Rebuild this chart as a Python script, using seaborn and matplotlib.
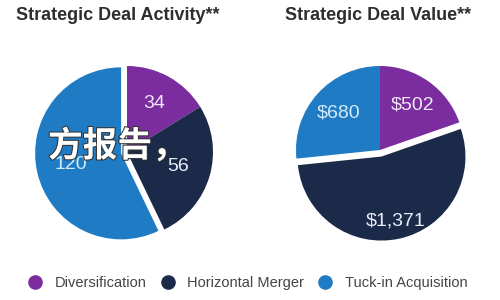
import matplotlib
matplotlib.use("Agg")
import matplotlib.pyplot as plt
import matplotlib.patheffects as pe
from matplotlib.lines import Line2D
import numpy as np
import seaborn as sns

categories = ["Diversification", "Horizontal Merger", "Tuck-in Acquisition"]
deal_activity = [34, 56, 120]
deal_value = [502, 1371, 680]
activity_labels = ["34", "56", "120"]
value_labels = ["$502", "$1,371", "$680"]
titles = ["Strategic Deal Activity**", "Strategic Deal Value**"]
overlay_text = "方报告，"

sns.set_theme(style="white")
plt.rcParams['font.family'] = ['Liberation Sans', 'DejaVu Sans']
colors = ["#7b2d9f", "#1c2a4a", "#1f7bc3"]
label_colors = ["#f0e8f8", "#e8eef8", "#d2ecfb"]

fig = plt.figure(figsize=(5, 3), dpi=100)
fig.patch.set_facecolor("white")

def px_axes(cx, cy, r):
    return fig.add_axes([(cx - r) / 500, (300 - cy - r) / 300, 2 * r / 500, 2 * r / 300])

def draw_pie(ax, values, labels, explode, dists):
    wedges, _ = ax.pie(values, colors=colors, startangle=90, counterclock=False,
                       explode=explode, radius=1.0,
                       wedgeprops=dict(linewidth=0))
    for i, (w, lab, d) in enumerate(zip(wedges, labels, dists)):
        w.set_clip_on(False)
        th = np.deg2rad((w.theta1 + w.theta2) / 2)
        cx, cy = w.center
        ax.text(cx + d * np.cos(th), cy + d * np.sin(th), lab, ha="center", va="center",
                fontsize=14, color=label_colors[i], clip_on=False)
    ax.set_xlim(-1, 1)
    ax.set_ylim(-1, 1)
    ax.set_aspect("equal")
    ax.axis("off")

ax1 = px_axes(127, 152, 86)
draw_pie(ax1, deal_activity, activity_labels, [0, 0, 0.07], [0.64, 0.62, 0.6])

ax2 = px_axes(380, 150, 84)
draw_pie(ax2, deal_value, value_labels, [0, 0.08, 0], [0.66, 0.78, 0.66])

fig.text(118 / 500, 1 - 16 / 300, titles[0], ha="center", va="center",
         fontsize=13, fontweight="bold", color="#2e2e2e")
fig.text(378 / 500, 1 - 16 / 300, titles[1], ha="center", va="center",
         fontsize=13, fontweight="bold", color="#2e2e2e")

handles = [Line2D([0], [0], marker="o", linestyle="", markersize=9.5,
                  markerfacecolor=c, markeredgecolor=c) for c in colors]
fig.legend(handles, categories, loc="center", bbox_to_anchor=(244 / 500, 1 - 283 / 300),
           ncol=3, frameon=False, fontsize=10.5, handletextpad=0.35, columnspacing=0.45,
           labelcolor="#444444")

fig.text(48 / 500, 1 - 146 / 300, overlay_text, ha="left", va="center",
         fontsize=25, fontweight="bold", color="white",
         family=['Noto Sans CJK SC', 'DejaVu Sans'],
         path_effects=[pe.withStroke(linewidth=1.5, foreground="#333333")])

fig.savefig("out.png", dpi=100, facecolor="white")
